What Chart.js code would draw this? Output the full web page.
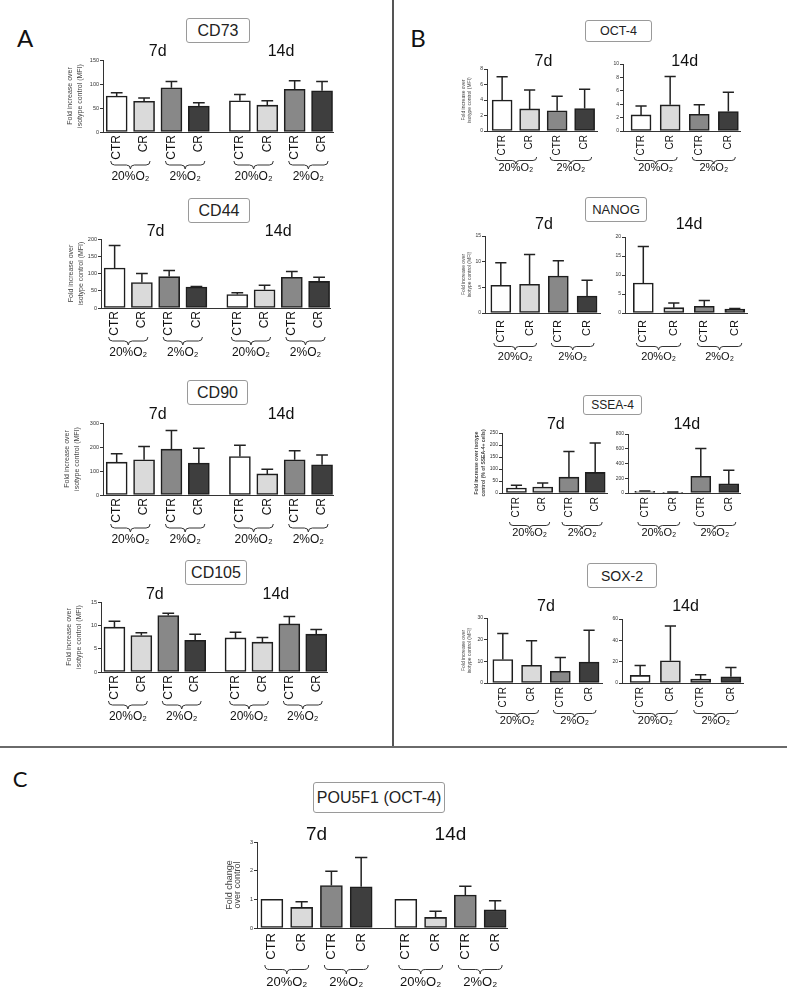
<!DOCTYPE html>
<html>
<head>
<meta charset="utf-8">
<script src="https://cdn.jsdelivr.net/npm/chart.js@4.4.1/dist/chart.umd.min.js"></script>
<style>
  html, body { margin: 0; padding: 0; background: #fff; }
  #fig { position: relative; width: 787px; height: 995px; overflow: hidden; font-family: "Liberation Sans", Arial, sans-serif; }
  #fig canvas { position: absolute; }
  .box { position: absolute; box-sizing: border-box; border: 1px solid #9a9a9a; border-radius: 3px; background: #fff;
         display: flex; align-items: center; justify-content: center; color: #222; }
  .letter { position: absolute; transform: translate(-50%, -50%); font-family: Lato, "Liberation Sans", sans-serif; color: #111; }
  .rule { position: absolute; background: #555; }
</style>
</head>
<body>
<div id="fig">
  <div class="rule" style="left:392px;top:0;width:1.5px;height:747px"></div>
  <div class="rule" style="left:0;top:746px;width:787px;height:2px;background:#6a6a6a"></div>

  <div class="letter" style="left:25px;top:37px;font-size:24px">A</div>
  <div class="letter" style="left:418px;top:37px;font-size:24px">B</div>
  <div class="letter" style="left:20px;top:778px;font-size:22px">C</div>

  <div class="box" style="left:186px;top:18px;width:64px;height:25px;font-size:16px">CD73</div>
  <div class="box" style="left:188px;top:198px;width:62px;height:25px;font-size:16px">CD44</div>
  <div class="box" style="left:187px;top:380px;width:61px;height:25px;font-size:16px">CD90</div>
  <div class="box" style="left:185px;top:560px;width:62px;height:25px;font-size:16px">CD105</div>

  <div class="box" style="left:585px;top:20px;width:67px;height:22px;font-size:12.5px">OCT-4</div>
  <div class="box" style="left:585px;top:197px;width:62px;height:25px;font-size:13px">NANOG</div>
  <div class="box" style="left:583px;top:395px;width:59px;height:20px;font-size:12px">SSEA-4</div>
  <div class="box" style="left:587px;top:563px;width:70px;height:25px;font-size:14px">SOX-2</div>

  <div class="box" style="left:313px;top:782px;width:132px;height:31px;font-size:16px">POU5F1 (OCT-4)</div>
</div>

<script>
// categories
const conditions = ['CTR', 'CR', 'CTR', 'CR', 'CTR', 'CR', 'CTR', 'CR'];
const oxygenLevels = ['20%O₂', '2%O₂', '20%O₂', '2%O₂'];
const days = ['7d', '14d'];

// Panel A: 7d then 14d, order CTR 20%, CR 20%, CTR 2%, CR 2%
const cd73Mean = [75, 64, 92, 54, 65, 56, 89, 86];
const cd73Sd = [7, 7, 13, 7, 13, 9, 18, 19];
const cd44Mean = [116, 74, 91, 61, 39, 53, 89, 77];
const cd44Sd = [65, 26, 18, 1, 5, 13, 17, 12];
const cd90Mean = [137, 147, 191, 133, 160, 88, 147, 126];
const cd90Sd = [35, 55, 78, 62, 47, 19, 37, 41];
const cd105Mean = [9.6, 7.8, 12.1, 6.8, 7.3, 6.4, 10.3, 8.1];
const cd105Sd = [1.3, 0.6, 0.5, 1.3, 1.2, 1.0, 1.6, 1.0];

// Panel B: separate 7d / 14d plots
const oct4Mean7d = [4.0, 2.85, 2.6, 2.9];
const oct4Sd7d = [3.0, 2.45, 1.9, 2.5];
const oct4Mean14d = [2.4, 3.9, 2.5, 2.9];
const oct4Sd14d = [1.35, 4.25, 1.4, 2.9];
const nanogMean7d = [5.4, 5.6, 7.2, 3.3];
const nanogSd7d = [4.4, 5.8, 3.0, 3.1];
const nanogMean14d = [7.9, 1.4, 1.75, 1.0];
const nanogSd14d = [9.6, 1.2, 1.55, 0.2];
const ssea4Mean7d = [21, 25, 66, 86];
const ssea4Sd7d = [11, 17, 107, 122];
const ssea4Mean14d = [23, 9, 227, 123];
const ssea4Sd14d = [4, 5, 378, 186];
const sox2Mean7d = [10.8, 8.2, 5.4, 9.7];
const sox2Sd7d = [12.1, 11.3, 6.4, 14.6];
const sox2Mean14d = [7.1, 20.8, 3.7, 5.9];
const sox2Sd14d = [9.4, 32.6, 4.1, 8.7];

// Panel C
const pou5f1Mean = [1.0, 0.72, 1.48, 1.44, 1.0, 0.37, 1.15, 0.63];
const pou5f1Sd = [0, 0.2, 0.5, 1.02, 0, 0.21, 0.31, 0.32];

const FONT = '"Liberation Sans", Arial, sans-serif';
const fills = ['#ffffff', '#dadada', '#888888', '#3e3e3e'];
const fig = document.getElementById('fig');
const PAD_TOP = 40, PAD_BOTTOM = 68, PAD_RIGHT = 6;

function overlay(s, slots, canvasTop) {
  return {
    id: 'overlay',
    afterDatasetsDraw(chart) {
      const { ctx, scales: { x, y } } = chart;
      const zero = y.getPixelForValue(0);
      const px = slots.map(v => x.getPixelForValue(v));
      ctx.save();

      // error bars (upper only)
      ctx.strokeStyle = '#222';
      ctx.lineWidth = 1.5;
      s.mean.forEach((m, i) => {
        if (!s.sd[i]) return;
        const t = y.getPixelForValue(m + s.sd[i]);
        ctx.beginPath();
        ctx.moveTo(px[i], y.getPixelForValue(m));
        ctx.lineTo(px[i], t);
        ctx.moveTo(px[i] - s.bar * 0.28, t);
        ctx.lineTo(px[i] + s.bar * 0.28, t);
        ctx.stroke();
      });

      // CTR / CR labels, rotated
      ctx.fillStyle = '#111';
      ctx.font = s.labelFont + 'px ' + FONT;
      ctx.textAlign = 'right';
      ctx.textBaseline = 'middle';
      s.mean.forEach((m, i) => {
        ctx.save();
        ctx.translate(px[i], zero + s.labelOff);
        ctx.rotate(-Math.PI / 2);
        ctx.fillText(conditions[i], 0, 0);
        ctx.restore();
      });

      // braces and oxygen labels
      ctx.lineWidth = 1;
      ctx.strokeStyle = '#333';
      ctx.textAlign = 'center';
      ctx.font = s.o2Font + 'px ' + FONT;
      for (let i = 0; i < s.mean.length; i += 2) {
        const x0 = px[i] - s.braceExt, x1 = px[i + 1] + s.braceExt;
        const xm = (x0 + x1) / 2, yb = zero + s.braceOff, h = s.braceH / 2;
        ctx.beginPath();
        ctx.moveTo(x0, yb);
        ctx.quadraticCurveTo(x0, yb + h, x0 + h, yb + h);
        ctx.lineTo(xm - h, yb + h);
        ctx.quadraticCurveTo(xm, yb + h, xm, yb + 2 * h);
        ctx.quadraticCurveTo(xm, yb + h, xm + h, yb + h);
        ctx.lineTo(x1 - h, yb + h);
        ctx.quadraticCurveTo(x1, yb + h, x1, yb);
        ctx.stroke();
        ctx.fillText(oxygenLevels[i / 2], xm, zero + s.o2Off);
      }

      // day titles
      ctx.font = s.dayFont + 'px ' + FONT;
      ctx.fillStyle = '#111';
      s.days.forEach((d, g) => {
        const grp = px.slice(g * 4, g * 4 + 4);
        const cx = grp.reduce((a, b) => a + b, 0) / grp.length;
        ctx.fillText(d, cx, s.titleY - canvasTop);
      });
      ctx.restore();
    }
  };
}

function drawChart(s) {
  const slots = s.mean.map((_, i) => i + (i >= 4 ? 0.5 : 0));
  const left = Math.round(s.axisLeft - s.yw);
  const yw = s.axisLeft - left;
  const top = s.yTop - PAD_TOP;
  const cv = document.createElement('canvas');
  cv.width = s.axisRight + PAD_RIGHT - left;
  cv.height = s.yZero - s.yTop + PAD_TOP + PAD_BOTTOM;
  cv.style.left = left + 'px';
  cv.style.top = top + 'px';
  fig.appendChild(cv);

  new Chart(cv, {
    type: 'bar',
    data: {
      datasets: [{
        data: s.mean.map((m, i) => ({ x: slots[i], y: m })),
        backgroundColor: s.mean.map((_, i) => fills[i % 4]),
        borderColor: '#1e1e1e',
        borderWidth: 1.6,
        borderSkipped: false,
        barThickness: s.bar
      }]
    },
    options: {
      responsive: false,
      animation: false,
      devicePixelRatio: 1,
      layout: { padding: { left: 0, top: PAD_TOP, right: PAD_RIGHT, bottom: PAD_BOTTOM } },
      plugins: { legend: { display: false }, tooltip: { enabled: false } },
      scales: {
        x: {
          type: 'linear',
          offset: false,
          min: s.xMin,
          max: s.xMax,
          ticks: { display: false },
          grid: { display: false, drawTicks: false },
          border: { color: '#333', width: 1 }
        },
        y: {
          min: 0,
          max: s.yMax,
          ticks: { stepSize: s.step, font: { size: s.tickFont, family: FONT }, color: '#333', padding: 1 },
          grid: { drawOnChartArea: false, tickLength: 3, color: '#333' },
          border: { color: '#333', width: 1 },
          title: {
            display: !!s.yTitle,
            text: s.yTitle || '',
            color: '#444',
            padding: 0,
            font: { size: s.titleSize, lineHeight: s.titleLh, family: FONT, weight: s.titleWeight || 'normal' }
          },
          afterFit: sc => { sc.width = yw; }
        }
      }
    },
    plugins: [overlay(s, slots, top)]
  });
}

const panelA = { bar: 21, labelFont: 12, o2Font: 12, labelOff: 3, braceOff: 29, braceH: 8, braceExt: 6, o2Off: 45,
  dayFont: 16, tickFont: 5.5, xMin: -0.5, xMax: 7.9, days: days,
  yTitle: ['Fold increase over', 'isotype control (MFI)'], titleSize: 7, titleLh: 1.3 };
const panelB = { bar: 20, labelFont: 10, o2Font: 11, labelOff: 4, braceOff: 27, braceH: 7, braceExt: 7, o2Off: 38,
  dayFont: 16, tickFont: 5, titleSize: 5, titleLh: 1.25 };
const mfi = ['Fold increase over', 'isotype control (MFI)'];

const specs = [
  Object.assign({}, panelA, { mean: cd73Mean, sd: cd73Sd, axisLeft: 103, axisRight: 333, yTop: 60, yZero: 132, yMax: 150, step: 50, titleY: 52, yw: 37 }),
  Object.assign({}, panelA, { mean: cd44Mean, sd: cd44Sd, axisLeft: 101, axisRight: 330, yTop: 239, yZero: 308, yMax: 200, step: 50, titleY: 232, yw: 34.5 }),
  Object.assign({}, panelA, { mean: cd90Mean, sd: cd90Sd, axisLeft: 103, axisRight: 333, yTop: 423, yZero: 495, yMax: 300, step: 100, titleY: 415, yw: 40 }),
  Object.assign({}, panelA, { mean: cd105Mean, sd: cd105Sd, axisLeft: 101, axisRight: 327, yTop: 602, yZero: 672, yMax: 15, step: 5, titleY: 595, yw: 36.5 }),

  Object.assign({}, panelB, { mean: oct4Mean7d, sd: oct4Sd7d, days: [days[0]], axisLeft: 487, axisRight: 597, yTop: 69, yZero: 131, yMax: 8, step: 2, titleY: 62, yw: 27.5, xMin: -0.55, xMax: 3.45, yTitle: mfi, labelOff: 4, braceOff: 26, o2Off: 37 }),
  Object.assign({}, panelB, { mean: oct4Mean14d, sd: oct4Sd14d, days: [days[1]], axisLeft: 623, axisRight: 740, yTop: 64, yZero: 131, yMax: 10, step: 2, titleY: 62, yw: 14, xMin: -0.62, xMax: 3.4, labelOff: 4, braceOff: 26, o2Off: 37 }),
  Object.assign({}, panelB, { mean: nanogMean7d, sd: nanogSd7d, days: [days[0]], axisLeft: 485, axisRight: 600, yTop: 236, yZero: 313, yMax: 15, step: 5, titleY: 225, yw: 25, xMin: -0.55, xMax: 3.45, yTitle: mfi, labelFont: 11, labelOff: 7, braceOff: 30, o2Off: 44 }),
  Object.assign({}, panelB, { mean: nanogMean14d, sd: nanogSd14d, days: [days[1]], axisLeft: 625, axisRight: 747, yTop: 237, yZero: 313, yMax: 20, step: 5, titleY: 225, yw: 14, xMin: -0.6, xMax: 3.4, labelFont: 11, labelOff: 7, braceOff: 30, o2Off: 44 }),
  Object.assign({}, panelB, { mean: ssea4Mean7d, sd: ssea4Sd7d, days: [days[0]], axisLeft: 502, axisRight: 607, yTop: 433, yZero: 493, yMax: 250, step: 50, titleY: 425, yw: 29, xMin: -0.55, xMax: 3.45, yTitle: ['Fold increase over isotype', 'control (% of SSEA-4+ cells)'], titleWeight: 'bold', titleLh: 1.4, labelOff: 4, braceOff: 29, o2Off: 40 }),
  Object.assign({}, panelB, { mean: ssea4Mean14d, sd: ssea4Sd14d, days: [days[1]], axisLeft: 628, axisRight: 740, yTop: 434, yZero: 493, yMax: 800, step: 200, titleY: 425, yw: 16, xMin: -0.6, xMax: 3.4, labelOff: 4, braceOff: 29, o2Off: 40 }),
  Object.assign({}, panelB, { mean: sox2Mean7d, sd: sox2Sd7d, days: [days[0]], axisLeft: 487, axisRight: 602, yTop: 618, yZero: 683, yMax: 30, step: 10, titleY: 607, yw: 27.5, xMin: -0.55, xMax: 3.45, yTitle: mfi, labelOff: 4, braceOff: 27, o2Off: 38 }),
  Object.assign({}, panelB, { mean: sox2Mean14d, sd: sox2Sd14d, days: [days[1]], axisLeft: 622, axisRight: 743, yTop: 619, yZero: 683, yMax: 60, step: 20, titleY: 607, yw: 14, xMin: -0.6, xMax: 3.4, labelOff: 4, braceOff: 27, o2Off: 38 }),

  { mean: pou5f1Mean, sd: pou5f1Sd, days: days, axisLeft: 257, axisRight: 507, yTop: 842, yZero: 928, yMax: 3, step: 1, titleY: 835, yw: 32.5,
    xMin: -0.5, xMax: 7.9, bar: 22, labelFont: 13, o2Font: 13, labelOff: 5, braceOff: 37, braceH: 9, braceExt: 7, o2Off: 54,
    dayFont: 19, tickFont: 5.5, yTitle: ['Fold change', 'over control'], titleSize: 9, titleLh: 0.95 }
];

specs.forEach(drawChart);
</script>
</body>
</html>
